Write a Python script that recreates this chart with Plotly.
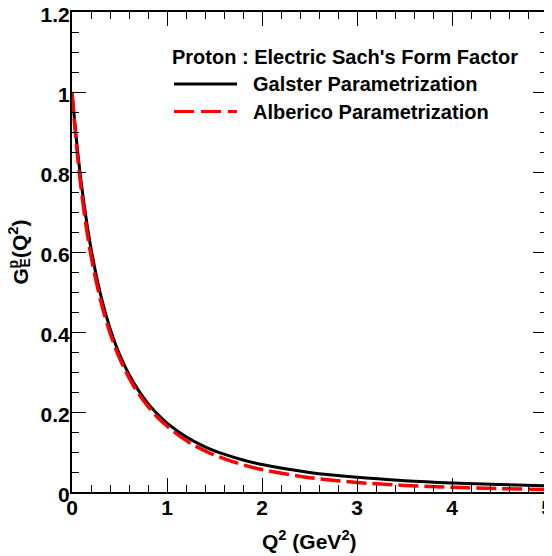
import plotly.graph_objects as go

# Q^2 values (GeV^2) and form factor values
q2 = [0, 0.05, 0.1, 0.15, 0.2, 0.3, 0.4, 0.5, 0.6, 0.7, 0.8, 0.9, 1.0,
      1.2, 1.4, 1.6, 1.8, 2.0, 2.5, 3.0, 3.5, 4.0, 4.5, 5.0]
galster = [1.0, 0.873, 0.768, 0.682, 0.609, 0.494, 0.409, 0.344, 0.294, 0.254,
           0.221, 0.195, 0.172, 0.138, 0.113, 0.0945, 0.080, 0.0686, 0.0489,
           0.0366, 0.0284, 0.0227, 0.0186, 0.0155]
alberico = [1.0, 0.860, 0.751, 0.663, 0.591, 0.480, 0.398, 0.335, 0.286, 0.246,
            0.214, 0.187, 0.165, 0.129, 0.103, 0.0832, 0.068, 0.0561, 0.0358,
            0.0239, 0.0165, 0.0117, 0.0085, 0.0063]

legend_title = "Proton : Electric Sach's Form Factor"
name_galster = "Galster Parametrization"
name_alberico = "Alberico Parametrization"

# the page body has an 8px margin: the figure starts at window pixel (8, 8)
OFF = 8
W, H = 552, 556
PL, PR, PT, PB = 72, 547, 12, 492          # plot frame in window pixels
L, R, T, B = PL - OFF, W - (PR - OFF), PT - OFF, H - (PB - OFF)
PW, PH = PR - PL, PB - PT


def px(x):
    return (x - PL) / PW


def py(y):
    return (PB - y) / PH


FONT = "Liberation Sans"

fig = go.Figure()
fig.add_trace(go.Scatter(x=q2, y=galster, mode="lines", name=name_galster,
                         line=dict(color="black", width=3, shape="spline"),
                         showlegend=False))
fig.add_trace(go.Scatter(x=q2, y=alberico, mode="lines", name=name_alberico,
                         line=dict(color="#ff0000", width=3.5, shape="spline",
                                   dash="20px,6px"),
                         showlegend=False))

axis_common = dict(
    showgrid=False, zeroline=False, showline=True, linecolor="black",
    linewidth=2, mirror="ticks", ticks="inside", tickcolor="black",
    tickwidth=1, ticklen=14, ticklabeloverflow="allow", automargin=False,
    tickfont=dict(family=FONT, size=21, color="black", weight="bold"),
)

fig.update_layout(
    width=W, height=H,
    margin=dict(l=L, r=R, t=T, b=B, pad=0, autoexpand=False),
    plot_bgcolor="white", paper_bgcolor="white",
    xaxis=dict(range=[0, 5], dtick=1, tick0=0, ticklabelstandoff=-4,
               minor=dict(dtick=0.2, ticklen=7, ticks="inside",
                          tickcolor="black", tickwidth=1),
               **axis_common),
    yaxis=dict(range=[0, 1.2], dtick=0.2, tick0=0, ticklabelstandoff=-4,
               ticklabelshift=3,
               minor=dict(dtick=0.05, ticklen=7, ticks="inside",
                          tickcolor="black", tickwidth=1),
               **axis_common),
    showlegend=False,
)

ann = []
tf = dict(family=FONT, size=21, color="black", weight="bold")
sf = dict(family=FONT, size=14, color="black", weight="bold")
# x axis title
ann.append(dict(text="Q<sup>2</sup> (GeV<sup>2</sup>)", x=px(309), y=py(540),
                xref="paper", yref="paper", xanchor="center", yanchor="middle",
                showarrow=False, font=tf))
# y axis title pieces (rotated)
ann.append(dict(text="G", x=px(20.5), y=py(277), xref="paper", yref="paper",
                xanchor="center", yanchor="middle", textangle=-90,
                showarrow=False, font=tf))
ann.append(dict(text="p", x=px(12.5), y=py(264), xref="paper", yref="paper",
                xanchor="center", yanchor="middle", textangle=-90,
                showarrow=False, font=sf))
ann.append(dict(text="E", x=px(24.5), y=py(263), xref="paper", yref="paper",
                xanchor="center", yanchor="middle", textangle=-90,
                showarrow=False, font=sf))
ann.append(dict(text="(Q<sup>2</sup>)", x=px(18), y=py(239), xref="paper",
                yref="paper", xanchor="center", yanchor="middle", textangle=-90,
                showarrow=False, font=tf))
# legend texts
lf = dict(family=FONT, size=20, color="black", weight="bold")
ann.append(dict(text=legend_title, x=px(170), y=py(56.7), xref="paper",
                yref="paper", xanchor="left", yanchor="middle",
                showarrow=False, font=lf))
ann.append(dict(text=name_galster, x=px(251), y=py(84), xref="paper",
                yref="paper", xanchor="left", yanchor="middle",
                showarrow=False, font=lf))
ann.append(dict(text=name_alberico, x=px(251), y=py(111.5), xref="paper",
                yref="paper", xanchor="left", yanchor="middle",
                showarrow=False, font=lf))
fig.update_layout(annotations=ann)

# legend sample lines
fig.add_shape(type="line", xref="paper", yref="paper",
              x0=px(174), x1=px(237), y0=py(84), y1=py(84),
              line=dict(color="black", width=3))
fig.add_shape(type="line", xref="paper", yref="paper",
              x0=px(174), x1=px(237), y0=py(111.5), y1=py(111.5),
              line=dict(color="#ff0000", width=3, dash="20px,7px"))

fig.write_html("out.html")
